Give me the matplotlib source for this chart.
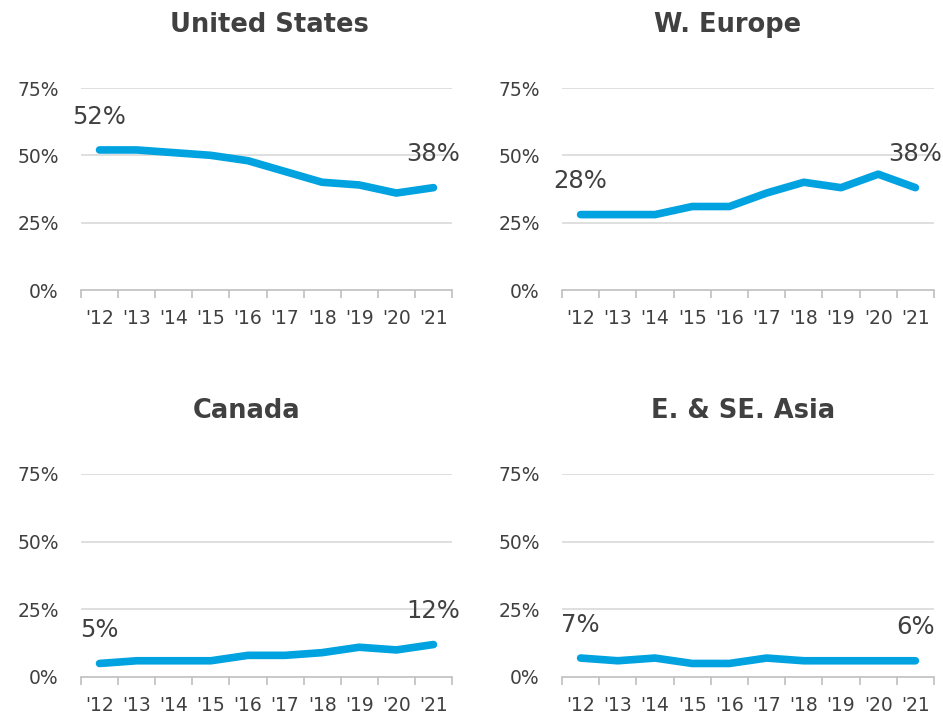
import matplotlib
matplotlib.use("Agg")
import matplotlib.pyplot as plt
from matplotlib.ticker import FixedLocator

years = ["'12", "'13", "'14", "'15", "'16", "'17", "'18", "'19", "'20", "'21"]
titles = ["United States", "W. Europe", "Canada", "E. & SE. Asia"]
us = [52, 52, 51, 50, 48, 44, 40, 39, 36, 38]
weu = [28, 28, 28, 31, 31, 36, 40, 38, 43, 38]
canada = [5, 6, 6, 6, 8, 8, 9, 11, 10, 12]
asia = [7, 6, 7, 5, 5, 7, 6, 6, 6, 6]
yticks = [0, 25, 50, 75]
series = [us, weu, canada, asia]

LINE = "#00A3E0"
TXT = "#404040"
GRID = "#D9D9D9"
AX = "#BFBFBF"

fig = plt.figure(figsize=(9.43, 7.14), dpi=100)
W, H = 943, 714
boxes = [(81, 452, 88, 290), (562, 934, 88, 290), (81, 452, 474, 677), (562, 934, 474, 677)]
title_x = [0.507, 0.444, 0.447, 0.487]

for (x0, x1, yt, yb), title, vals, tx in zip(boxes, titles, series, title_x):
    ax = fig.add_axes([x0 / W, 1 - yb / H, (x1 - x0) / W, (yb - yt) / H])
    x = list(range(len(years)))
    ax.plot(x, vals, color=LINE, lw=5.5, solid_capstyle="round", solid_joinstyle="round", zorder=3, clip_on=False)
    ax.set_xlim(-0.5, len(years) - 0.5)
    ax.set_ylim(0, 75)
    ax.set_yticks(yticks)
    ax.set_yticklabels([f"{v}%" for v in yticks])
    ax.set_xticks(x)
    ax.set_xticklabels(years)
    ax.xaxis.set_minor_locator(FixedLocator([i - 0.5 for i in range(len(years) + 1)]))
    ax.tick_params(axis="x", which="major", length=0, pad=14, labelsize=13.5, labelcolor=TXT)
    ax.tick_params(axis="x", which="minor", length=6, width=1.2, color=AX)
    ax.tick_params(axis="y", length=0, pad=16, labelsize=13.5, labelcolor=TXT)
    for v in yticks[1:]:
        ax.axhline(v, color=GRID, lw=1.2, zorder=1)
    for s in ["top", "right", "left"]:
        ax.spines[s].set_visible(False)
    ax.spines["bottom"].set_color(AX)
    ax.spines["bottom"].set_linewidth(1.2)
    ax.set_title(title, fontsize=18.5, fontweight="bold", color=TXT, pad=40, x=tx)
    for i in (0, len(vals) - 1):
        ax.annotate(f"{vals[i]}%", (x[i], vals[i]), xytext=(0, 24), textcoords="offset points",
                    ha="center", va="center", fontsize=17.5, color=TXT)

fig.savefig("out.png", dpi=100)
